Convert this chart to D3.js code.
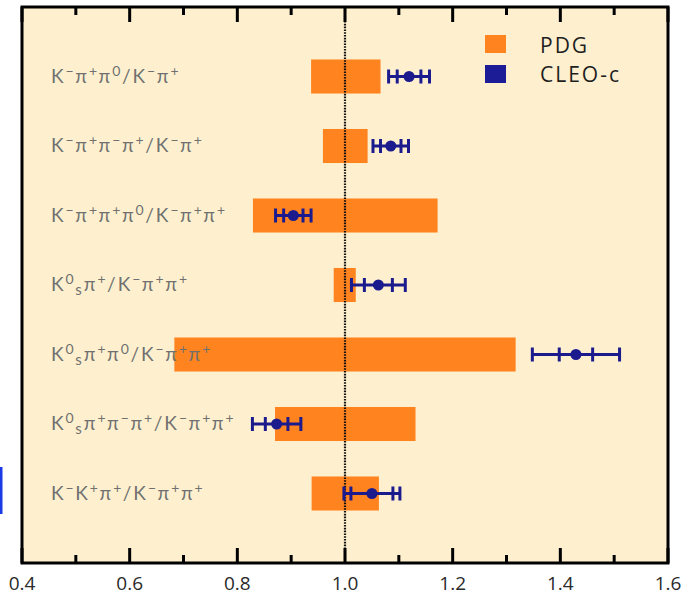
<!DOCTYPE html>
<html>
<head>
<meta charset="utf-8">
<script src="https://cdn.jsdelivr.net/npm/d3@7"></script>
<style>
  body { margin: 0; background: #fff; }
  .tick-label { font-family: "Open Sans", sans-serif; font-size: 19px; fill: #2a2a2a; }
  .row-label { font-family: Lato, "Open Sans", sans-serif; font-size: 19px; fill: #707070; letter-spacing: 2px; }
  .legend-text { font-family: "Open Sans", sans-serif; font-size: 21px; fill: #1e1e1e; letter-spacing: 2px; }
</style>
</head>
<body>
<div id="chart"></div>
<script>
// ratio labels, ^x = superscript, _x = subscript
const labels = [
  'K^−π^+π^0/K^−π^+',
  'K^−π^+π^−π^+/K^−π^+',
  'K^−π^+π^+π^0/K^−π^+π^+',
  'K^0_sπ^+/K^−π^+π^+',
  'K^0_sπ^+π^0/K^−π^+π^+',
  'K^0_sπ^+π^−π^+/K^−π^+π^+',
  'K^−K^+π^+/K^−π^+π^+'
];
// PDG range (bar)
const pdgLow  = [0.937, 0.959, 0.829, 0.979, 0.683, 0.870, 0.938];
const pdgHigh = [1.066, 1.042, 1.172, 1.020, 1.317, 1.131, 1.063];
// CLEO-c value, statistical and total error
const cleoValue = [1.119, 1.085, 0.904, 1.062, 1.429, 0.873, 1.050];
const cleoStat  = [0.022, 0.019, 0.018, 0.026, 0.031, 0.021, 0.039];
const cleoTotal = [0.038, 0.033, 0.033, 0.050, 0.081, 0.045, 0.052];

const xMajor = [0.4, 0.6, 0.8, 1.0, 1.2, 1.4, 1.6];
const xMinor = [0.5, 0.7, 0.9, 1.1, 1.3, 1.5];

const W = 693, H = 599;
const frame = { left: 22, right: 668, top: 7, bottom: 563 };
const colors = { bg: '#fef0cf', pdg: '#ff8420', cleo: '#1b1b8e' };

const svg = d3.select('#chart').append('svg')
  .attr('width', W).attr('height', H);

const x = d3.scaleLinear().domain([0.4, 1.6]).range([frame.left, frame.right]);
const y = d3.scalePoint().domain(d3.range(labels.length))
  .range([frame.top, frame.bottom]).padding(1);
const barH = y.step() * 0.49;

// stray blue mark at left edge of the source image
svg.append('rect').attr('x', 0).attr('y', 467).attr('width', 2.5).attr('height', 47)
  .attr('fill', '#1a3ae6');

// plot background
svg.append('rect')
  .attr('x', frame.left).attr('y', frame.top)
  .attr('width', frame.right - frame.left).attr('height', frame.bottom - frame.top)
  .attr('fill', colors.bg);

const rows = d3.range(labels.length);

// PDG bars
svg.selectAll('.pdg').data(rows).join('rect')
  .attr('class', 'pdg')
  .attr('x', i => x(pdgLow[i]))
  .attr('width', i => x(pdgHigh[i]) - x(pdgLow[i]))
  .attr('y', i => y(i) - barH / 2)
  .attr('height', barH)
  .attr('fill', colors.pdg);

// dotted line at 1.0
svg.append('line')
  .attr('x1', x(1)).attr('x2', x(1))
  .attr('y1', frame.top).attr('y2', frame.bottom)
  .attr('stroke', '#111').attr('stroke-width', 2.2)
  .attr('stroke-dasharray', '1.6,1.2');

// row labels with super/subscripts
function parseLabel(s) {
  const parts = [];
  let k = 0;
  while (k < s.length) {
    const c = s[k];
    if (c === '^' || c === '_') {
      parts.push({ text: s[k + 1], kind: c === '^' ? 'sup' : 'sub' });
      k += 2;
    } else {
      parts.push({ text: c, kind: 'main' });
      k += 1;
    }
  }
  return parts;
}
const shift = { main: 0, sup: -7, sub: 4 };
svg.selectAll('.row-label').data(rows).join('text')
  .attr('class', 'row-label')
  .attr('x', 51)
  .attr('y', i => y(i) + 6)
  .each(function(i) {
    const t = d3.select(this);
    let prev = 0;
    parseLabel(labels[i]).forEach(p => {
      const ts = t.append('tspan').text(p.text)
        .attr('dy', shift[p.kind] - prev);
      if (p.kind === 'sup') ts.attr('font-size', 14).style('letter-spacing', '1.5px');
      if (p.kind === 'sub') ts.attr('font-size', 15);
      prev = shift[p.kind];
    });
  });

// CLEO-c error bars
const cleoG = svg.selectAll('.cleo').data(rows).join('g')
  .attr('class', 'cleo')
  .attr('stroke', colors.cleo).attr('fill', colors.cleo);
const capH = 14;
cleoG.append('line')
  .attr('x1', i => x(cleoValue[i] - cleoTotal[i]))
  .attr('x2', i => x(cleoValue[i] + cleoTotal[i]))
  .attr('y1', i => y(i)).attr('y2', i => y(i))
  .attr('stroke-width', 3);
[-1, 1].forEach(sgn => {
  cleoG.append('line')
    .attr('x1', i => x(cleoValue[i] + sgn * cleoTotal[i]))
    .attr('x2', i => x(cleoValue[i] + sgn * cleoTotal[i]))
    .attr('y1', i => y(i) - capH / 2).attr('y2', i => y(i) + capH / 2)
    .attr('stroke-width', 3);
  cleoG.append('line')
    .attr('x1', i => x(cleoValue[i] + sgn * cleoStat[i]))
    .attr('x2', i => x(cleoValue[i] + sgn * cleoStat[i]))
    .attr('y1', i => y(i) - capH / 2).attr('y2', i => y(i) + capH / 2)
    .attr('stroke-width', 3);
});
cleoG.append('circle')
  .attr('cx', i => x(cleoValue[i])).attr('cy', i => y(i))
  .attr('r', 5.5).attr('stroke', 'none');

// ticks on bottom and top, pointing inward
const tickG = svg.append('g').attr('stroke', '#000').attr('stroke-width', 3);
[[xMajor, 15], [xMinor, 8]].forEach(([vals, len]) => {
  tickG.selectAll(null).data(vals).join('line')
    .attr('x1', d => x(d)).attr('x2', d => x(d))
    .attr('y1', frame.bottom).attr('y2', frame.bottom - len);
  tickG.selectAll(null).data(vals).join('line')
    .attr('x1', d => x(d)).attr('x2', d => x(d))
    .attr('y1', frame.top).attr('y2', frame.top + len);
});

// frame
svg.append('rect')
  .attr('x', frame.left).attr('y', frame.top)
  .attr('width', frame.right - frame.left).attr('height', frame.bottom - frame.top)
  .attr('fill', 'none').attr('stroke', '#000').attr('stroke-width', 3);

// tick labels
svg.selectAll('.tick-label').data(xMajor).join('text')
  .attr('class', 'tick-label')
  .attr('x', d => x(d)).attr('y', 590)
  .attr('text-anchor', 'middle')
  .text(d => d3.format('.1f')(d));

// legend
const legend = svg.append('g').attr('transform', 'translate(485,35)');
const legendItems = [['PDG', colors.pdg], ['CLEO-c', '#1c1c96']];
legend.selectAll('rect').data(legendItems).join('rect')
  .attr('x', 0).attr('y', (d, i) => i * 30)
  .attr('width', 21).attr('height', 18)
  .attr('fill', d => d[1]);
legend.selectAll('text').data(legendItems).join('text')
  .attr('class', 'legend-text')
  .attr('x', 55).attr('y', (d, i) => 18 + i * 29)
  .text(d => d[0]);
</script>
</body>
</html>
